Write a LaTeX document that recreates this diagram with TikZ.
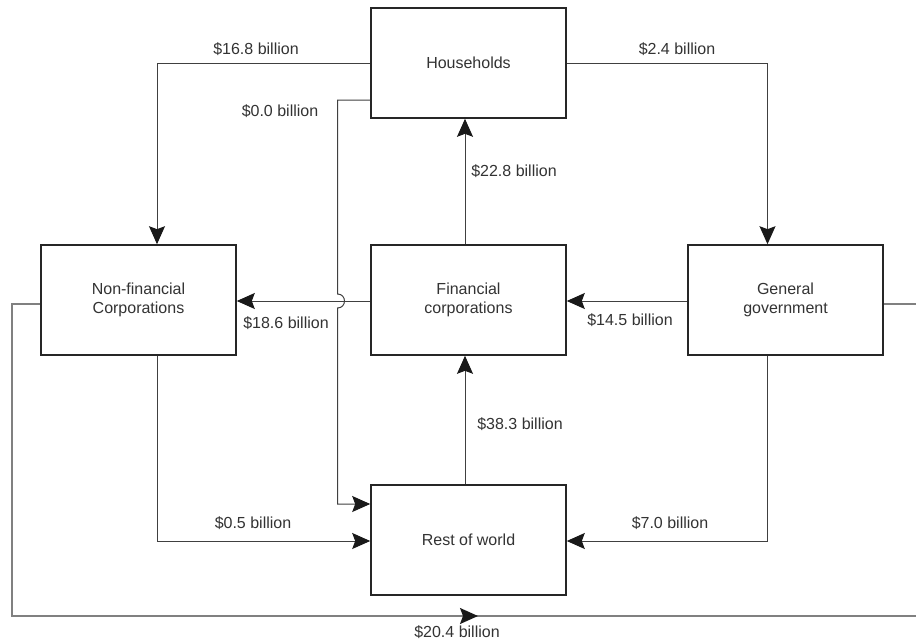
\documentclass[tikz,border=0pt]{standalone}
\usepackage{fontspec}
\setmainfont{Liberation Sans}
\usetikzlibrary{arrows.meta,calc}
\begin{document}
\begin{tikzpicture}[x=1pt,y=-1pt,
  box/.style={draw=black!85,line width=1.6pt,minimum width=195pt,minimum height=110pt,inner sep=0pt,align=center,font=\fontsize{16}{18.5}\selectfont,text=black!80},
  lbl/.style={inner sep=0pt,font=\fontsize{16}{18.5}\selectfont,text=black!80},
  conn/.style={draw=black!75,line width=1pt},
  arr/.style={conn,-{Stealth[length=18pt,width=16pt,inset=3pt,color=black!90]}},
  loopline/.style={draw=black!50,line width=1.5pt}]
\clip (0,0) rectangle (916,640);
\fill[white] (0,0) rectangle (916,640);

% boxes
\node[box] (hh)  at (468.5,63)  {Households};
\node[box] (nfc) at (138.5,300) {Non-financial\\Corporations};
\node[box] (fc)  at (468.5,300) {Financial\\corporations};
\node[box] (gg)  at (785.5,300) {General\\government};
\node[box] (row) at (468.5,540) {Rest of world};

% connectors
\draw[arr] (hh.west) -| ($(nfc.north)+(18.5,0)$);
\draw[arr] (hh.east) -| ($(gg.north)+(-18,0)$);
\draw[arr] ($(hh.west)+(0,37)$) -- (337.5,100) -- (337.5,294)
   .. controls (346.8,294) and (346.8,308) .. (337.5,308)
   |- ($(row.west)+(0,-36)$);
\draw[arr] ($(fc.north)+(-3.5,0)$) -- ($(hh.south)+(-3.5,0)$);
\draw[arr] ($(fc.west)+(0,1)$) -- ($(nfc.east)+(0,1)$);
\draw[arr] ($(gg.west)+(0,1)$) -- ($(fc.east)+(0,1)$);
\draw[arr] ($(row.north)+(-3.5,0)$) -- ($(fc.south)+(-3.5,0)$);
\draw[arr] ($(nfc.south)+(18.5,0)$) |- ($(row.west)+(0,1)$);
\draw[arr] ($(gg.south)+(-18,0)$) |- ($(row.east)+(0,1)$);

% outer loop
\coordinate (lpA) at (12,616);
\coordinate (lpB) at (921,616);
\coordinate (lpM) at (478,616);
\draw[loopline] ($(nfc.west)+(0,4)$) -| (lpA) -- (lpB) |- ($(gg.east)+(0,4)$);
\draw[loopline,-{Stealth[length=18pt,width=16pt,inset=3pt,color=black!90]}] (lpA) -- (lpM);

% labels
\node[lbl] (l1) at (256,49)  {\$16.8 billion};
\node[lbl] (l2) at (677,49)  {\$2.4 billion};
\node[lbl] (l3) at (280,111) {\$0.0 billion};
\node[lbl] (l4) at (514,171) {\$22.8 billion};
\node[lbl] (l5) at (286,323) {\$18.6 billion};
\node[lbl] (l6) at (630,320) {\$14.5 billion};
\node[lbl] (l7) at (520,424) {\$38.3 billion};
\node[lbl] (l8) at (253,523) {\$0.5 billion};
\node[lbl] (l9) at (670,523) {\$7.0 billion};
\node[lbl] (l10) at (457,632) {\$20.4 billion};
\end{tikzpicture}
\end{document}
